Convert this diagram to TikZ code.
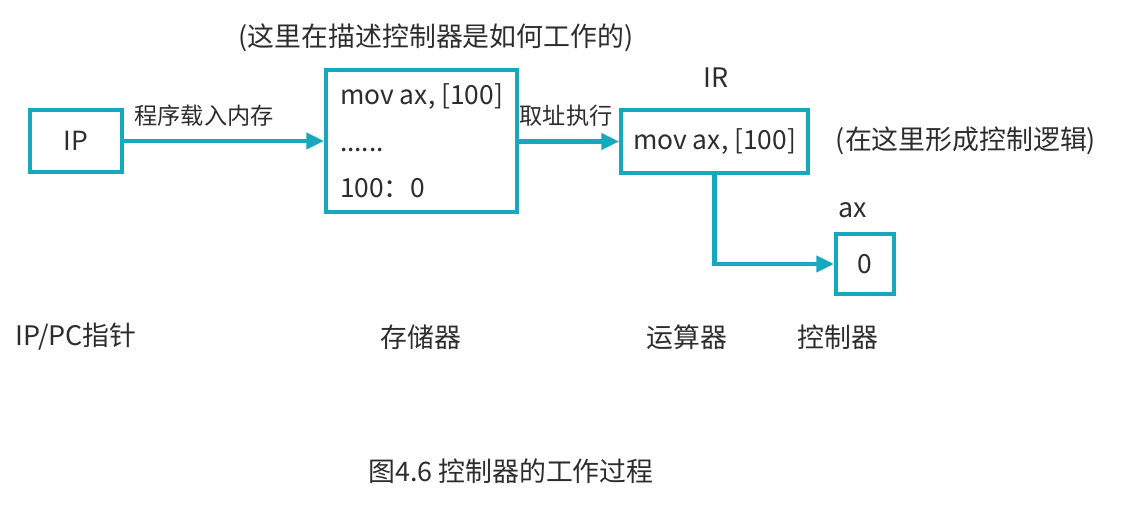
\documentclass[tikz,border=0pt]{standalone}
\usepackage{fontspec}
\setmainfont{Noto Sans CJK SC}
\usetikzlibrary{arrows.meta}
\definecolor{regcyan}{RGB}{22,168,188}
\definecolor{inkgray}{RGB}{45,45,45}

\begin{document}
\begin{tikzpicture}[
    x=0.02cm, y=-0.02cm,
    >={Triangle[length=10pt, width=9pt]},
    regbox/.style={draw=regcyan, line width=2.3pt, text=inkgray, inner sep=0pt, font=\fontsize{15}{18}\selectfont},
    flow/.style={->, draw=regcyan, line width=2.3pt},
    bigtext/.style={text=inkgray, inner sep=0pt, font=\fontsize{15.3}{18}\selectfont},
    smalltext/.style={text=inkgray, inner sep=0pt, font=\fontsize{13.2}{16}\selectfont},
]
\useasboundingbox (0,0) rectangle (1140,509);

% registers and memory
\node[regbox, minimum width=1.84cm, minimum height=1.24cm] (ipbox) at (76,141) {IP};
\node[regbox, minimum width=3.82cm, minimum height=2.84cm, align=left, font=\fontsize{15}{26.6}\selectfont] (membox) at (421.5,141) {mov ax, [100]\\......\\100：0};
\node[regbox, minimum width=3.74cm, minimum height=1.26cm] (irbox) at (714.5,141.5) {mov ax, [100]};
\node[regbox, minimum width=1.16cm, minimum height=1.2cm] (axbox) at (865,264) {0};

% labels
\node[bigtext] (title) at (436,38) {(这里在描述控制器是如何工作的)};
\node[smalltext] (loadlbl) at (204,116) {程序载入内存};
\node[smalltext] (fetchlbl) at (566,116) {取址执行};
\node[bigtext] (irlbl) at (716,78) {IR};
\node[bigtext] (logiclbl) at (966,141) {(在这里形成控制逻辑)};
\node[bigtext] (axlbl) at (853,210) {ax};
\node[bigtext] (ipcap) at (76,337) {IP/PC指针};
\node[bigtext] (memcap) at (421,337) {存储器};
\node[bigtext] (alucap) at (687,337) {运算器};
\node[bigtext] (ctlcap) at (838,337) {控制器};
\node[bigtext] (figcap) at (511,471) {图4.6 控制器的工作过程};

% connectors
\draw[flow] (ipbox.east) -- (membox.west |- ipbox.east);
\draw[flow] (membox.east |- irbox.west) -- (irbox.west);
\draw[flow] (irbox.south) |- (axbox.west);

\end{tikzpicture}
\end{document}
